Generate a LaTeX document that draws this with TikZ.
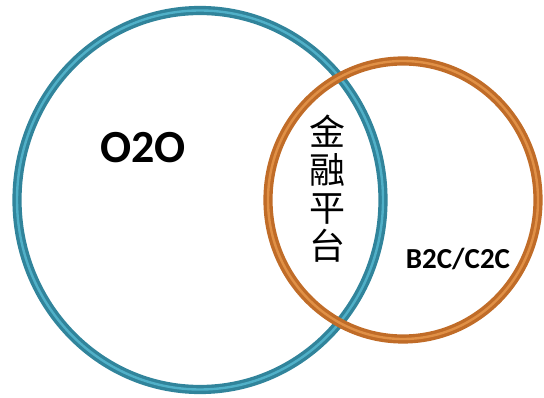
\documentclass[tikz,border=0pt]{standalone}
\usepackage{fontspec}
\setsansfont{Carlito}
\newfontfamily\cjk{Noto Sans CJK SC}
\usetikzlibrary{shapes.geometric,positioning}

\definecolor{tealDark}{RGB}{49,132,155}
\definecolor{tealLight}{RGB}{80,176,200}
\definecolor{orangeDark}{RGB}{192,108,40}
\definecolor{orangeLight}{RGB}{224,144,70}

\begin{document}
\begin{tikzpicture}[x=1pt,y=-1pt]
  \useasboundingbox (0,0) rectangle (544,398);
  \tikzset{
    ring/.style={ellipse,line width=3.4pt,double distance=2.4pt,inner sep=0pt},
    tealRing/.style={ring,draw=tealDark,double=tealLight},
    orangeRing/.style={ring,draw=orangeDark,double=orangeLight},
    % label styles
    bigLabel/.style={font=\sffamily\bfseries\fontsize{46}{46}\selectfont},
    smallLabel/.style={font=\sffamily\bfseries\fontsize{29}{29}\selectfont},
    cjkLabel/.style={font=\cjk\fontsize{36}{38}\selectfont,align=center,inner sep=0pt}
  }

  % Circles
  \node [tealRing,minimum width=366pt,minimum height=379pt] (o2oRing) at (200,200) {};
  \node [orangeRing,minimum width=270pt,minimum height=278pt] (b2cRing) at (403,200) {};

  % Labels
  \node [bigLabel] (o2o) at (143,148) {O2O};
  \node [smallLabel] (b2c) at (458,259) {B2C/C2C};
  \node [cjkLabel] (finance) at (327,189) {金\\融\\平\\台};

\end{tikzpicture}
\end{document}
